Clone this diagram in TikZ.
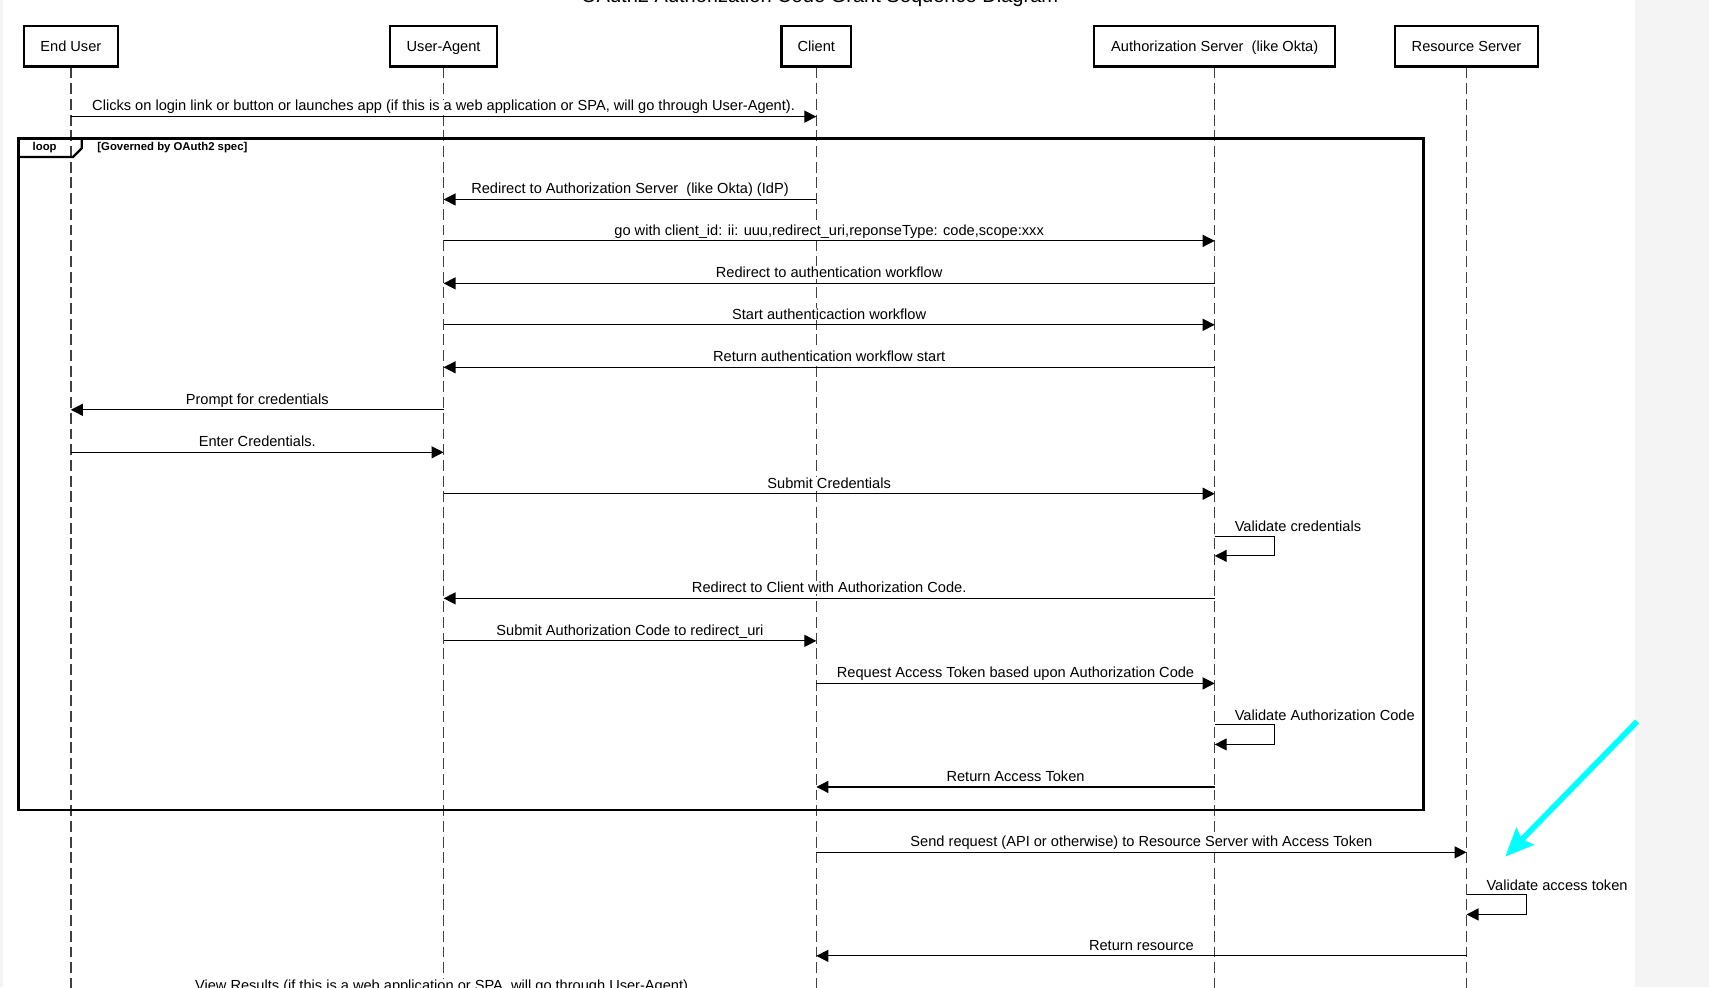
\documentclass[tikz,border=0pt]{standalone}
\usepackage{fontspec}
\setmainfont{Liberation Sans}
\usetikzlibrary{arrows.meta}
\definecolor{pagegray}{HTML}{F4F4F4}
\definecolor{lifegray}{HTML}{404040}
\definecolor{hint}{HTML}{00FFFF}
\newcommand\seqmsg[4]{%
  \draw[msg] (#1 |- 0,#3) -- (#2 |- 0,#3) node[lbl, midway]{#4};}
\newcommand\seqself[3]{%
  \draw[msg] (#1 |- 0,#2) -- ++(55,0) -- ++(0,18) -- ++(-55,0);
  \path (#1 |- 0,#2) ++(18,-4) node[anchor=base west, inner sep=0pt, font=\fontsize{6.7}{8}\selectfont]{#3};}
\begin{document}
\begin{tikzpicture}[x=0.5pt,y=-0.5pt,
  actor/.style={draw, line width=1pt, minimum height=18.5pt, inner sep=0pt, text height=0.72em, text depth=0.2em, font=\fontsize{6.7}{8}\selectfont},
  life/.style={draw=lifegray, line width=0.65pt, dash pattern=on 5pt off 2.2pt},
  msg/.style={draw=black, line width=0.55pt, -{Triangle[length=5.5pt,width=5.5pt]}},
  lbl/.style={anchor=base, yshift=2.6pt, fill=white, inner xsep=1pt, inner ysep=0.4pt, font=\fontsize{6.7}{8}\selectfont},
  frame/.style={draw=black, line width=1pt},
  tag/.style={font=\fontsize{5.2}{6}\selectfont\bfseries}
]
\useasboundingbox (0,0) rectangle (1568,906);
\fill[white] (0,0) rectangle (1568,906);
\fill[pagegray] (1500,0) rectangle (1568,906);
\fill[pagegray] (0,0) rectangle (3,906);

% title (cut off at top)
\node[anchor=base, font=\fontsize{9.2}{11}\selectfont] (title) at (752,2) {OAuth2 Authorization Code Grant Sequence Diagram};

% participants
\node[actor, minimum width=43pt] (eu) at (65,42.5) {End User};
\node[actor, minimum width=49pt] (ua) at (407,42.5) {User-Agent};
\node[actor, minimum width=32pt] (cl) at (749,42.5) {Client};
\node[actor, minimum width=110.5pt] (as) at (1114.5,42.5) {Authorization Server~ (like Okta)};
\node[actor, minimum width=65.5pt] (rs) at (1345.5,42.5) {Resource Server};

% lifelines
\foreach \p in {eu,ua,cl,as,rs}{
  \draw[life] (\p.south) -- (\p.south |- 0,920);
}

% first message
\seqmsg{eu}{cl}{107}{Clicks on login link or button or launches app (if this is a web application or SPA, will go through User-Agent).}

% loop frame
\draw[frame] (17,127) rectangle (1306,743);
\draw[frame] (17,144) -- (67,144) -- (75,136) -- (75,127);
\node[tag] (looptag) at (41,135.5) {loop};
\node[tag, anchor=west, inner xsep=0pt] (loopcond) at (89,135.5) {[Governed by OAuth2 spec]};

\seqmsg{cl}{ua}{183}{Redirect to Authorization Server~ (like Okta) (IdP)}
\seqmsg{ua}{as}{221}{go with client\_id: ii: uuu,redirect\_uri,reponseType: code,scope:xxx}
\seqmsg{as}{ua}{260}{Redirect to authentication workflow}
\seqmsg{ua}{as}{298}{Start authenticaction workflow}
\seqmsg{as}{ua}{337}{Return authentication workflow start}
\seqmsg{ua}{eu}{376}{Prompt for credentials}
\seqmsg{eu}{ua}{415}{Enter Credentials.}
\seqmsg{ua}{as}{453}{Submit Credentials}
\seqself{as}{492}{Validate credentials}
\seqmsg{as}{ua}{549}{Redirect to Client with Authorization Code.}
\seqmsg{ua}{cl}{588}{Submit Authorization Code to redirect\_uri}
\seqmsg{cl}{as}{627}{Request Access Token based upon Authorization Code}
\seqself{as}{665}{Validate Authorization Code}
\seqmsg{as}{cl}{722}{Return Access Token}

\seqmsg{cl}{rs}{782}{Send request (API or otherwise) to Resource Server with Access Token}
\seqself{rs}{821}{Validate access token}
\seqmsg{rs}{cl}{877}{Return resource}

% bottom label (cut off)
\node[anchor=base, fill=white, inner xsep=1pt, inner ysep=0.4pt, font=\fontsize{6.7}{8}\selectfont] (viewres) at (407,909) {View Results (if this is a web application or SPA, will go through User-Agent).};

% cyan pointer
\coordinate (cyanstart) at (1502,662);
\coordinate (cyanend) at (1381,786);
\draw[hint, line width=2.6pt, -{Stealth[length=13pt,width=11pt,inset=2pt]}] (cyanstart) -- (cyanend);
\end{tikzpicture}
\end{document}
